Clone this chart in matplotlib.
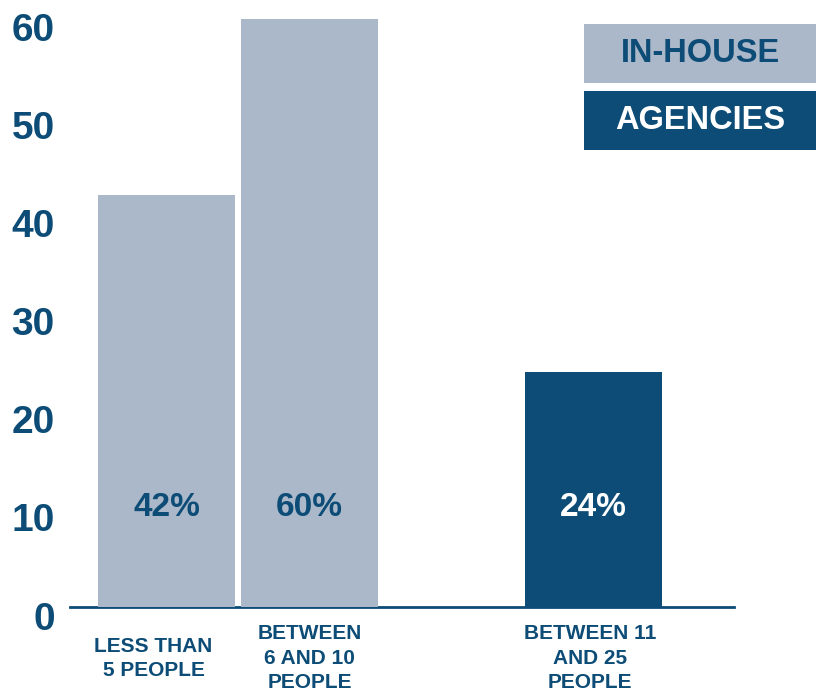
import matplotlib
matplotlib.use("Agg")
import matplotlib.pyplot as plt
from matplotlib.patches import Rectangle
from matplotlib.transforms import ScaledTranslation

# team size survey
categories = ["LESS THAN\n5 PEOPLE", "BETWEEN\n6 AND 10\nPEOPLE", "BETWEEN 11\nAND 25\nPEOPLE"]
values = [42, 60, 24]
series = ["IN-HOUSE", "IN-HOUSE", "AGENCIES"]
series_names = ["IN-HOUSE", "AGENCIES"]
y_ticks = [0, 10, 20, 30, 40, 50, 60]

DARK = "#0c4c76"
LIGHT = "#abb8c9"
colors = {"IN-HOUSE": LIGHT, "AGENCIES": DARK}
text_colors = {"IN-HOUSE": DARK, "AGENCIES": "white"}

plt.rcParams["font.family"] = ["Liberation Sans", "DejaVu Sans"]
plt.rcParams["font.weight"] = "bold"

fig = plt.figure(figsize=(8.22, 6.90), dpi=100)
ax = fig.add_axes([70 / 822, 83 / 690, 664 / 822, 607 / 690])

xpos = [0, 1, 2.985]
bars = ax.bar(xpos, values, width=0.958,
              color=[colors[s] for s in series], zorder=2)

# percentage labels inside the bars
for x, v, s in zip(xpos, values, series):
    ax.text(x, 10.1, f"{v}%", ha="center", va="center", fontsize=24,
            fontweight="bold", color=text_colors[s], zorder=3)

ax.set_xlim(-0.675, 3.97)
ax.set_ylim(0, 61.9)

for side in ["top", "right", "left"]:
    ax.spines[side].set_visible(False)
ax.spines["bottom"].set_color(DARK)
ax.spines["bottom"].set_linewidth(2)
ax.spines["bottom"].set_zorder(1)

ax.set_yticks(y_ticks)
ax.set_yticklabels([str(t) for t in y_ticks])
ax.tick_params(axis="y", length=0, pad=11, labelsize=28, labelcolor=DARK)
for lab in ax.get_yticklabels():
    lab.set_fontweight("bold")
    lab.set_transform(lab.get_transform() +
                      ScaledTranslation(0, -8.5 / 100, fig.dpi_scale_trans))

ax.set_xticks(xpos)
ax.set_xticklabels(categories)
ax.tick_params(axis="x", length=0, pad=37, labelsize=15, labelcolor=DARK)
for i, lab in enumerate(ax.get_xticklabels()):
    lab.set_fontweight("bold")
    lab.set_verticalalignment("center")
    lab.set_linespacing(1.36)
    dx = -13 if i == 0 else (-3 if i == 2 else 0)
    lab.set_transform(lab.get_transform() +
                      ScaledTranslation(dx / 100, 0, fig.dpi_scale_trans))

# legend boxes, top right
box_y = [607 / 690, 540 / 690]
for name, y0 in zip(series_names, box_y):
    fig.patches.append(Rectangle((584 / 822, y0), 232 / 822, 59 / 690,
                                 transform=fig.transFigure,
                                 facecolor=colors[name], edgecolor="none"))
    fig.text(700 / 822, y0 + 29.5 / 690, name, ha="center", va="center",
             fontsize=23.5, fontweight="bold", color=text_colors[name])

fig.savefig("out.png", dpi=100)
